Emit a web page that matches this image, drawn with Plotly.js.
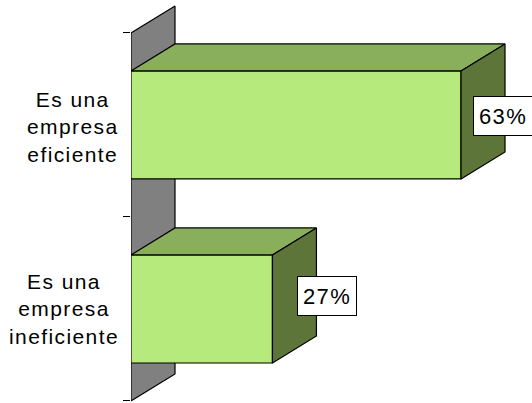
<!DOCTYPE html>
<html>
<head>
<meta charset="utf-8">
<script src="https://cdn.plot.ly/plotly-3.0.1.min.js"></script>
<style>html,body{margin:0;padding:0;background:#fff;overflow:hidden}#chart{width:532px;height:403px}
.annotation-text{letter-spacing:1.4px}</style>
</head>
<body>
<div id="chart"></div>
<script>
// Data, bottom to top
const categories = ["Es una<br>empresa<br>ineficiente", "Es una<br>empresa<br>eficiente"];
const values = [27, 63];
const valueLabels = ["27%", "63%"];

// Chart styling and 3D projection
const labelShiftX = [10.4, 8.1];
const labelShiftY = [0.073, 0.049];
const categoryShiftY = [0, -2];
const depthX = 8.4, depthY = 0.147, barWidth = 0.587;
const xRange = [0, 76.55], yRange = [-0.0109, 2.179];
const frontColor = "#B6EA7D", topColor = "#8AAF5C", sideColor = "#5D7539", wallColor = "#808080";
const fontFamily = '"Liberation Sans", Arial, sans-serif';

function polygon(xs, ys, color, yaxis) {
  return { type: "scatter", mode: "lines", x: xs, y: ys, xaxis: "x", yaxis: yaxis,
    fill: "toself", fillcolor: color, line: { color: "#000", width: 1.2 },
    hoverinfo: "skip", showlegend: false };
}

const n = categories.length;
const centers = categories.map((_, i) => i + 0.5);
const traces = [];
// Back wall behind the bars
traces.push(polygon([0, depthX, depthX, 0, 0], [0, depthY, n + depthY, n, 0], wallColor, "y"));
// Front faces
traces.push({ type: "bar", orientation: "h", x: values, y: centers, width: barWidth,
  xaxis: "x", yaxis: "y2", marker: { color: frontColor, line: { color: "#000", width: 1.2 } },
  hoverinfo: "skip", showlegend: false });
// Top and side faces
values.forEach((v, i) => {
  const lo = centers[i] - barWidth / 2, hi = centers[i] + barWidth / 2;
  traces.push(polygon([0, depthX, v + depthX, v, 0], [hi, hi + depthY, hi + depthY, hi, hi], topColor, "y2"));
  traces.push(polygon([v, v + depthX, v + depthX, v, v], [hi, hi + depthY, lo + depthY, lo, hi], sideColor, "y2"));
});

const annotations = [];
categories.forEach((c, i) => {
  annotations.push({ xref: "x", yref: "y2", x: 0, y: centers[i], xshift: -10, yshift: categoryShiftY[i],
    xanchor: "right", yanchor: "middle", text: c, showarrow: false, align: "center",
    font: { family: fontFamily, size: 21, color: "#000" } });
  annotations.push({ xref: "x", yref: "y2", x: values[i] + labelShiftX[i], y: centers[i] + labelShiftY[i],
    xanchor: "center", yanchor: "middle", text: valueLabels[i], showarrow: false,
    width: 56, height: 36, bgcolor: "#fff", bordercolor: "#000", borderwidth: 1,
    font: { family: fontFamily, size: 22, color: "#000" } });
});

const layout = {
  width: 532, height: 403, margin: { l: 131, r: 0, t: 0, b: 0 },
  paper_bgcolor: "#fff", plot_bgcolor: "#fff", showlegend: false, barmode: "overlay",
  xaxis: { range: xRange, visible: false, fixedrange: true },
  yaxis: { range: yRange, showgrid: false, zeroline: false, showline: false, fixedrange: true,
    tickmode: "array", tickvals: Array.from({ length: n + 1 }, (_, i) => i),
    ticktext: Array.from({ length: n + 1 }, () => ""),
    ticks: "outside", ticklen: 7, tickwidth: 1, tickcolor: "#000" },
  yaxis2: { range: yRange, overlaying: "y", anchor: "x", side: "left", visible: false, fixedrange: true },
  annotations: annotations
};
Plotly.newPlot("chart", traces, layout, { displayModeBar: false, staticPlot: true });
</script>
</body>
</html>
